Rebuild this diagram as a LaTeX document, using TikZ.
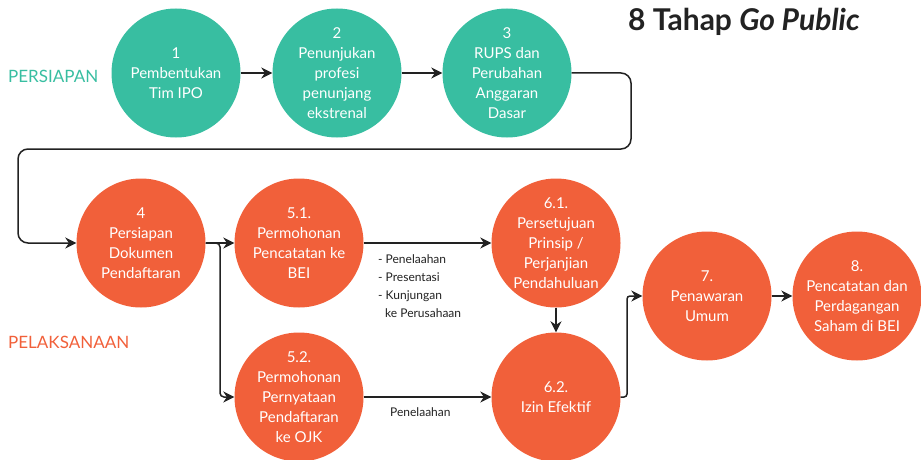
\documentclass[tikz,border=0pt]{standalone}
\usepackage{fontspec}
\setmainfont{Lato}
\usetikzlibrary{arrows.meta}
\definecolor{tealc}{RGB}{56,190,161}
\definecolor{orangec}{RGB}{241,96,58}
\definecolor{linec}{RGB}{34,34,34}
\begin{document}
\begin{tikzpicture}[x=1pt,y=-1pt,
  stage/.style={circle,minimum size=129pt,inner sep=0pt,align=center,
    text=white,font=\fontsize{15}{20}\selectfont},
  prep/.style={stage,fill=tealc},
  exec/.style={stage,fill=orangec},
  flow/.style={draw=linec,line width=1.5pt,-{Stealth[length=11pt,width=11pt]}},
  note/.style={align=left,text=linec,font=\fontsize{12}{18}\selectfont,inner sep=0pt}]
\useasboundingbox (0,0) rectangle (921,460);

% title and phase labels
\node[anchor=west,font=\fontsize{30}{32}\selectfont\bfseries,text=linec,inner sep=0pt] (title) at (628,22) {8 Tahap \textit{Go Public}};
\node[anchor=west,text=tealc,font=\fontsize{17}{20}\selectfont,inner sep=0pt] (persiapan) at (8,76) {PERSIAPAN};
\node[anchor=west,text=orangec,font=\fontsize{17}{20}\selectfont,inner sep=0pt] (pelaksanaan) at (8,342) {PELAKSANAAN};

% preparation stages
\node[prep] (n1) at (176,73) {1\\Pembentukan\\Tim IPO};
\node[prep] (n2) at (337,73) {2\\Penunjukan\\profesi\\penunjang\\ekstrenal};
\node[prep] (n3) at (507,73) {3\\RUPS dan\\Perubahan\\Anggaran\\Dasar};

% execution stages
\node[exec] (n4) at (141,243) {4\\Persiapan\\Dokumen\\Pendaftaran};
\node[exec] (n51) at (299,243) {5.1.\\Permohonan\\Pencatatan ke\\BEI};
\node[exec] (n52) at (299,397) {5.2.\\Permohonan\\Pernyataan\\Pendaftaran\\ke OJK};
\node[exec] (n61) at (556,243) {6.1.\\Persetujuan\\Prinsip /\\Perjanjian\\Pendahuluan};
\node[exec] (n62) at (556,397) {6.2.\\Izin Efektif};
\node[exec] (n7) at (707,296) {7.\\Penawaran\\Umum};
\node[exec] (n8) at (857,296) {8.\\Pencatatan dan\\Perdagangan\\Saham di BEI};

% connector labels
\node[note,anchor=north west] (notes51) at (378,254) {- Penelaahan\\- Presentasi\\- Kunjungan\\\hspace*{7pt}ke Perusahaan};
\node[note,anchor=west] (notes52) at (390,412) {Penelaahan};

% connectors
\draw[flow] (n1) -- (n2);
\draw[flow] (n2) -- (n3);
\draw[flow,rounded corners=10pt] (n3.east) -- (631,73) -- (631,149) -- (18,149) -- (18,243) -- (n4.west);
\draw[flow] (n4) -- (n51);
\draw[flow,rounded corners=4pt] (n4.east) -- (220,243) -- (220,397) -- (n52.west);
\draw[flow] (n51) -- (n61);
\draw[flow] (n52) -- (n62);
\draw[flow] (n61) -- (n62);
\draw[flow,rounded corners=3pt] (n62.east) -- (627,397) -- (627,296) -- (n7.west);
\draw[flow] (n7) -- (n8);
\end{tikzpicture}
\end{document}
